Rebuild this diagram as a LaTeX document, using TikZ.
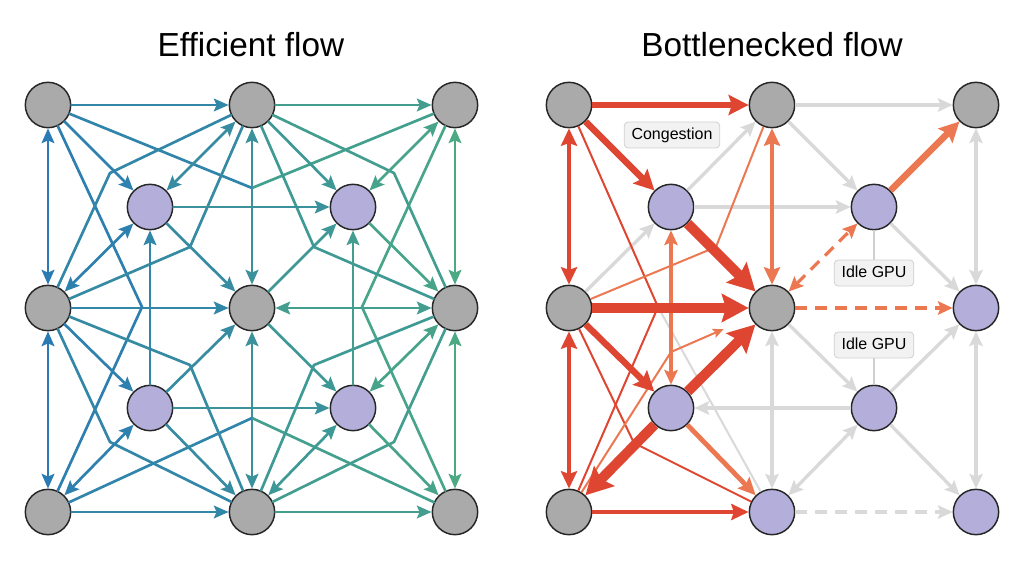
\documentclass[tikz,border=0pt]{standalone}
\usepackage{fontspec}
\setmainfont{Liberation Sans}
\usetikzlibrary{arrows.meta, positioning}
\definecolor{flowblue}{HTML}{2A7AB4}
\definecolor{flowgreen}{HTML}{4BAA84}
\definecolor{swgray}{HTML}{AAAAAA}
\definecolor{gpupurple}{HTML}{B4AFDA}
\definecolor{nodeline}{HTML}{262626}
\definecolor{bnred}{HTML}{DF4632}
\definecolor{bnorange}{HTML}{EC7852}
\definecolor{bngray}{HTML}{D9D9D9}
\definecolor{tagfill}{HTML}{F2F2F2}
\definecolor{tagline}{HTML}{D0D0D0}

\begin{document}
\begin{tikzpicture}[
  x=0.75pt, y=-0.75pt,
  sw/.style={circle, draw=nodeline, line width=1.1pt, fill=swgray, minimum size=34pt, inner sep=0pt},
  gpu/.style={sw, fill=gpupurple},
  title/.style={font=\fontsize{25}{29}\selectfont},
  tag/.style={draw=tagline, fill=tagfill, rounded corners=3pt, line width=0.6pt, font=\fontsize{12}{14}\selectfont, inner xsep=5.5pt, inner ysep=4pt, text height=9pt, text depth=2.5pt},
  flow/.style={line width=2pt, draw=flowgreen!#1!flowblue, line cap=round, >={Stealth[length=11pt,width=9.5pt,inset=2pt]}},
  heavy/.style={line width=7.5pt, draw=#1, >={Stealth[length=20pt,width=21pt,inset=3pt]}},
  strong/.style={line width=4.8pt, draw=#1, >={Stealth[length=15pt,width=15pt,inset=2.5pt]}},
  medium/.style={line width=3.6pt, draw=#1, >={Stealth[length=13pt,width=12pt,inset=2pt]}},
  light/.style={line width=2.8pt, draw=#1, >={Stealth[length=11pt,width=10pt,inset=2pt]}},
  thinline/.style={line width=1.5pt, draw=#1, >={Stealth[length=8pt,width=7pt,inset=1.5pt]}},
  idle/.style={line width=2.5pt, draw=bngray, >={Stealth[length=11pt,width=10pt,inset=2pt]}},
  idledash/.style={idle, dash pattern=on 9pt off 6pt},
  hotdash/.style={line width=2.4pt, draw=bnorange, dash pattern=on 9pt off 6pt, >={Stealth[length=11pt,width=10pt,inset=2pt]}}
]
\useasboundingbox[fill=white] (0,0) rectangle (1024,563);

% titles
\node[title] (tEff) at (251,45) {Efficient flow};
\node[title] (tBot) at (772,45) {Bottlenecked flow};

% efficient flow: nodes
\node[sw] (eA1) at (48,105) {};
\node[sw] (eA2) at (252,105) {};
\node[sw] (eA3) at (455,105) {};
\node[gpu] (eP1) at (150,207) {};
\node[gpu] (eP2) at (353,207) {};
\node[sw] (eB1) at (48,308) {};
\node[sw] (eB2) at (252,308) {};
\node[sw] (eB3) at (455,308) {};
\node[gpu] (eP3) at (150,408) {};
\node[gpu] (eP4) at (353,408) {};
\node[sw] (eC1) at (48,512) {};
\node[sw] (eC2) at (252,512) {};
\node[sw] (eC3) at (455,512) {};

% efficient flow: bend points
\coordinate (eVt) at (252,188);
\coordinate (eVb) at (252,418);
\coordinate (eVl) at (142,307);
\coordinate (eVr) at (362,307);
\coordinate (eK1) at (110,173);
\coordinate (eK2) at (190,247);
\coordinate (eK3) at (394,173);
\coordinate (eK4) at (314,247);
\coordinate (eK5) at (110,442);
\coordinate (eK6) at (190,365);
\coordinate (eK7) at (394,442);
\coordinate (eK8) at (314,365);

% efficient flow: long routes
\draw[flow=20] (eA1) -- (eVt);
\draw[flow=80] (eVt) -- (eA3);
\draw[flow=20] (eC1) -- (eVb);
\draw[flow=80] (eVb) -- (eC3);
\draw[flow=10] (eA1) -- (eVl) -- (eC1);
\draw[flow=90] (eA3) -- (eVr) -- (eC3);
\draw[flow=25] (eB1) -- (eK1) -- (eA2);
\draw[flow=35] (eB1) -- (eK2) -- (eA2);
\draw[flow=75] (eB3) -- (eK3) -- (eA2);
\draw[flow=65] (eB3) -- (eK4) -- (eA2);
\draw[flow=25] (eB1) -- (eK5) -- (eC2);
\draw[flow=35] (eB1) -- (eK6) -- (eC2);
\draw[flow=75] (eB3) -- (eK7) -- (eC2);
\draw[flow=65] (eB3) -- (eK8) -- (eC2);

% efficient flow: grid links
\draw[flow=25, ->] (eA1) -- (eA2);
\draw[flow=75, ->] (eA2) -- (eA3);
\draw[flow=25, ->] (eB1) -- (eB2);
\draw[flow=75, <->] (eB2) -- (eB3);
\draw[flow=25, ->] (eC1) -- (eC2);
\draw[flow=75, ->] (eC2) -- (eC3);
\draw[flow=0, <->] (eA1) -- (eB1);
\draw[flow=0, <->] (eB1) -- (eC1);
\draw[flow=50, <->] (eA2) -- (eB2);
\draw[flow=50, <->] (eB2) -- (eC2);
\draw[flow=100, <->] (eA3) -- (eB3);
\draw[flow=100, <->] (eB3) -- (eC3);
\draw[flow=50, ->] (eP1) -- (eP2);
\draw[flow=50, ->] (eP3) -- (eP4);
\draw[flow=25, ->] (eP3) -- (eP1);
\draw[flow=75, ->] (eP4) -- (eP2);

% efficient flow: links to the GPUs
\draw[flow=12, ->] (eA1) -- (eP1);
\draw[flow=38, <->] (eA2) -- (eP1);
\draw[flow=12, <->] (eB1) -- (eP1);
\draw[flow=38, ->] (eP1) -- (eB2);
\draw[flow=62, ->] (eA2) -- (eP2);
\draw[flow=88, <->] (eA3) -- (eP2);
\draw[flow=62, ->] (eB2) -- (eP2);
\draw[flow=88, ->] (eP2) -- (eB3);
\draw[flow=12, ->] (eB1) -- (eP3);
\draw[flow=12, <->] (eC1) -- (eP3);
\draw[flow=38, ->] (eP3) -- (eB2);
\draw[flow=38, ->] (eP3) -- (eC2);
\draw[flow=62, ->] (eB2) -- (eP4);
\draw[flow=62, <->] (eC2) -- (eP4);
\draw[flow=88, <->] (eB3) -- (eP4);
\draw[flow=88, ->] (eP4) -- (eC3);

% bottlenecked flow: nodes
\node[sw] (bA1) at (569,105) {};
\node[sw] (bA2) at (772,105) {};
\node[sw] (bA3) at (976,105) {};
\node[gpu] (bP1) at (671,207) {};
\node[gpu] (bP2) at (874,207) {};
\node[sw] (bB1) at (569,308) {};
\node[sw] (bB2) at (772,308) {};
\node[gpu] (bB3) at (976,308) {};
\node[gpu] (bP3) at (671,408) {};
\node[gpu] (bP4) at (874,408) {};
\node[sw] (bC1) at (569,512) {};
\node[gpu] (bC2) at (772,512) {};
\node[gpu] (bC3) at (976,512) {};

\coordinate (bVl) at (658,307);
\coordinate (bK2) at (716,247);
\coordinate (bK5) at (634,443);
\coordinate (bK9) at (671,352);

% bottlenecked flow: idle links
\draw[idle, ->] (bA2) -- (bA3);
\draw[idle, <->] (bA3) -- (bB3);
\draw[idle, <->] (bB3) -- (bC3);
\draw[idle, <->] (bB2) -- (bC2);
\draw[idle, ->] (bP1) -- (bA2);
\draw[idle, ->] (bB1) -- (bP1);
\draw[idle, ->] (bP1) -- (bP2);
\draw[idle, ->] (bA2) -- (bP2);
\draw[idle, ->] (bP2) -- (bB3);
\draw[idle, ->] (bB2) -- (bP4);
\draw[idle, ->] (bP4) -- (bB3);
\draw[idle, <->] (bC2) -- (bP4);
\draw[idle, ->] (bP4) -- (bC3);
\draw[idle, ->] (bP4) -- (bP3);
\draw[idledash, ->] (bC2) -- (bC3);
\draw[bngray, line width=1.5pt] (bVl) -- (bC2);

% bottlenecked flow: thin routes
\draw[thinline=bnred] (bA1) -- (bVl) -- (bC1);
\draw[thinline=bnorange] (bB1) -- (bK2) -- (bA2);
\draw[thinline=bnred] (bB1) -- (bK5) -- (bC2);
\draw[thinline=bnorange, ->, shorten >=22pt] (bC1) -- (bK9) -- (bB2);

% bottlenecked flow: loaded links
\draw[strong=bnred, ->] (bA1) -- (bA2);
\draw[medium=bnred, <->] (bA1) -- (bB1);
\draw[medium=bnred, <->] (bB1) -- (bC1);
\draw[medium=bnorange, <->] (bA2) -- (bB2);
\draw[strong=bnred, ->] (bA1) -- (bP1);
\draw[light=bnorange, <->] (bP1) -- (bP3);
\draw[strong=bnorange, ->] (bP2) -- (bA3);
\draw[strong=bnred, ->] (bB1) -- (bP3);
\draw[medium=bnorange, ->] (bP3) -- (bC2);
\draw[medium=bnred, ->] (bC1) -- (bC2);
\draw[heavy=bnred, ->] (bP1) -- (bB2);
\draw[heavy=bnred, ->] (bB1) -- (bB2);
\draw[heavy=bnred, ->] (bP3) -- (bB2);
\draw[heavy=bnred, ->] (bP3) -- (bC1);
\draw[hotdash, <->] (bB2) -- (bP2);
\draw[hotdash, ->] (bB2) -- (bB3);

% labels
\node[tag] (tCong) at (672,135) {Congestion};
\node[tag] (tIdle1) at (874,273) {Idle GPU};
\node[tag] (tIdle2) at (874,345) {Idle GPU};
\draw[tagline, line width=0.8pt] (bP2) -- (tIdle1);
\draw[tagline, line width=0.8pt] (tIdle2) -- (bP4);
\end{tikzpicture}
\end{document}
